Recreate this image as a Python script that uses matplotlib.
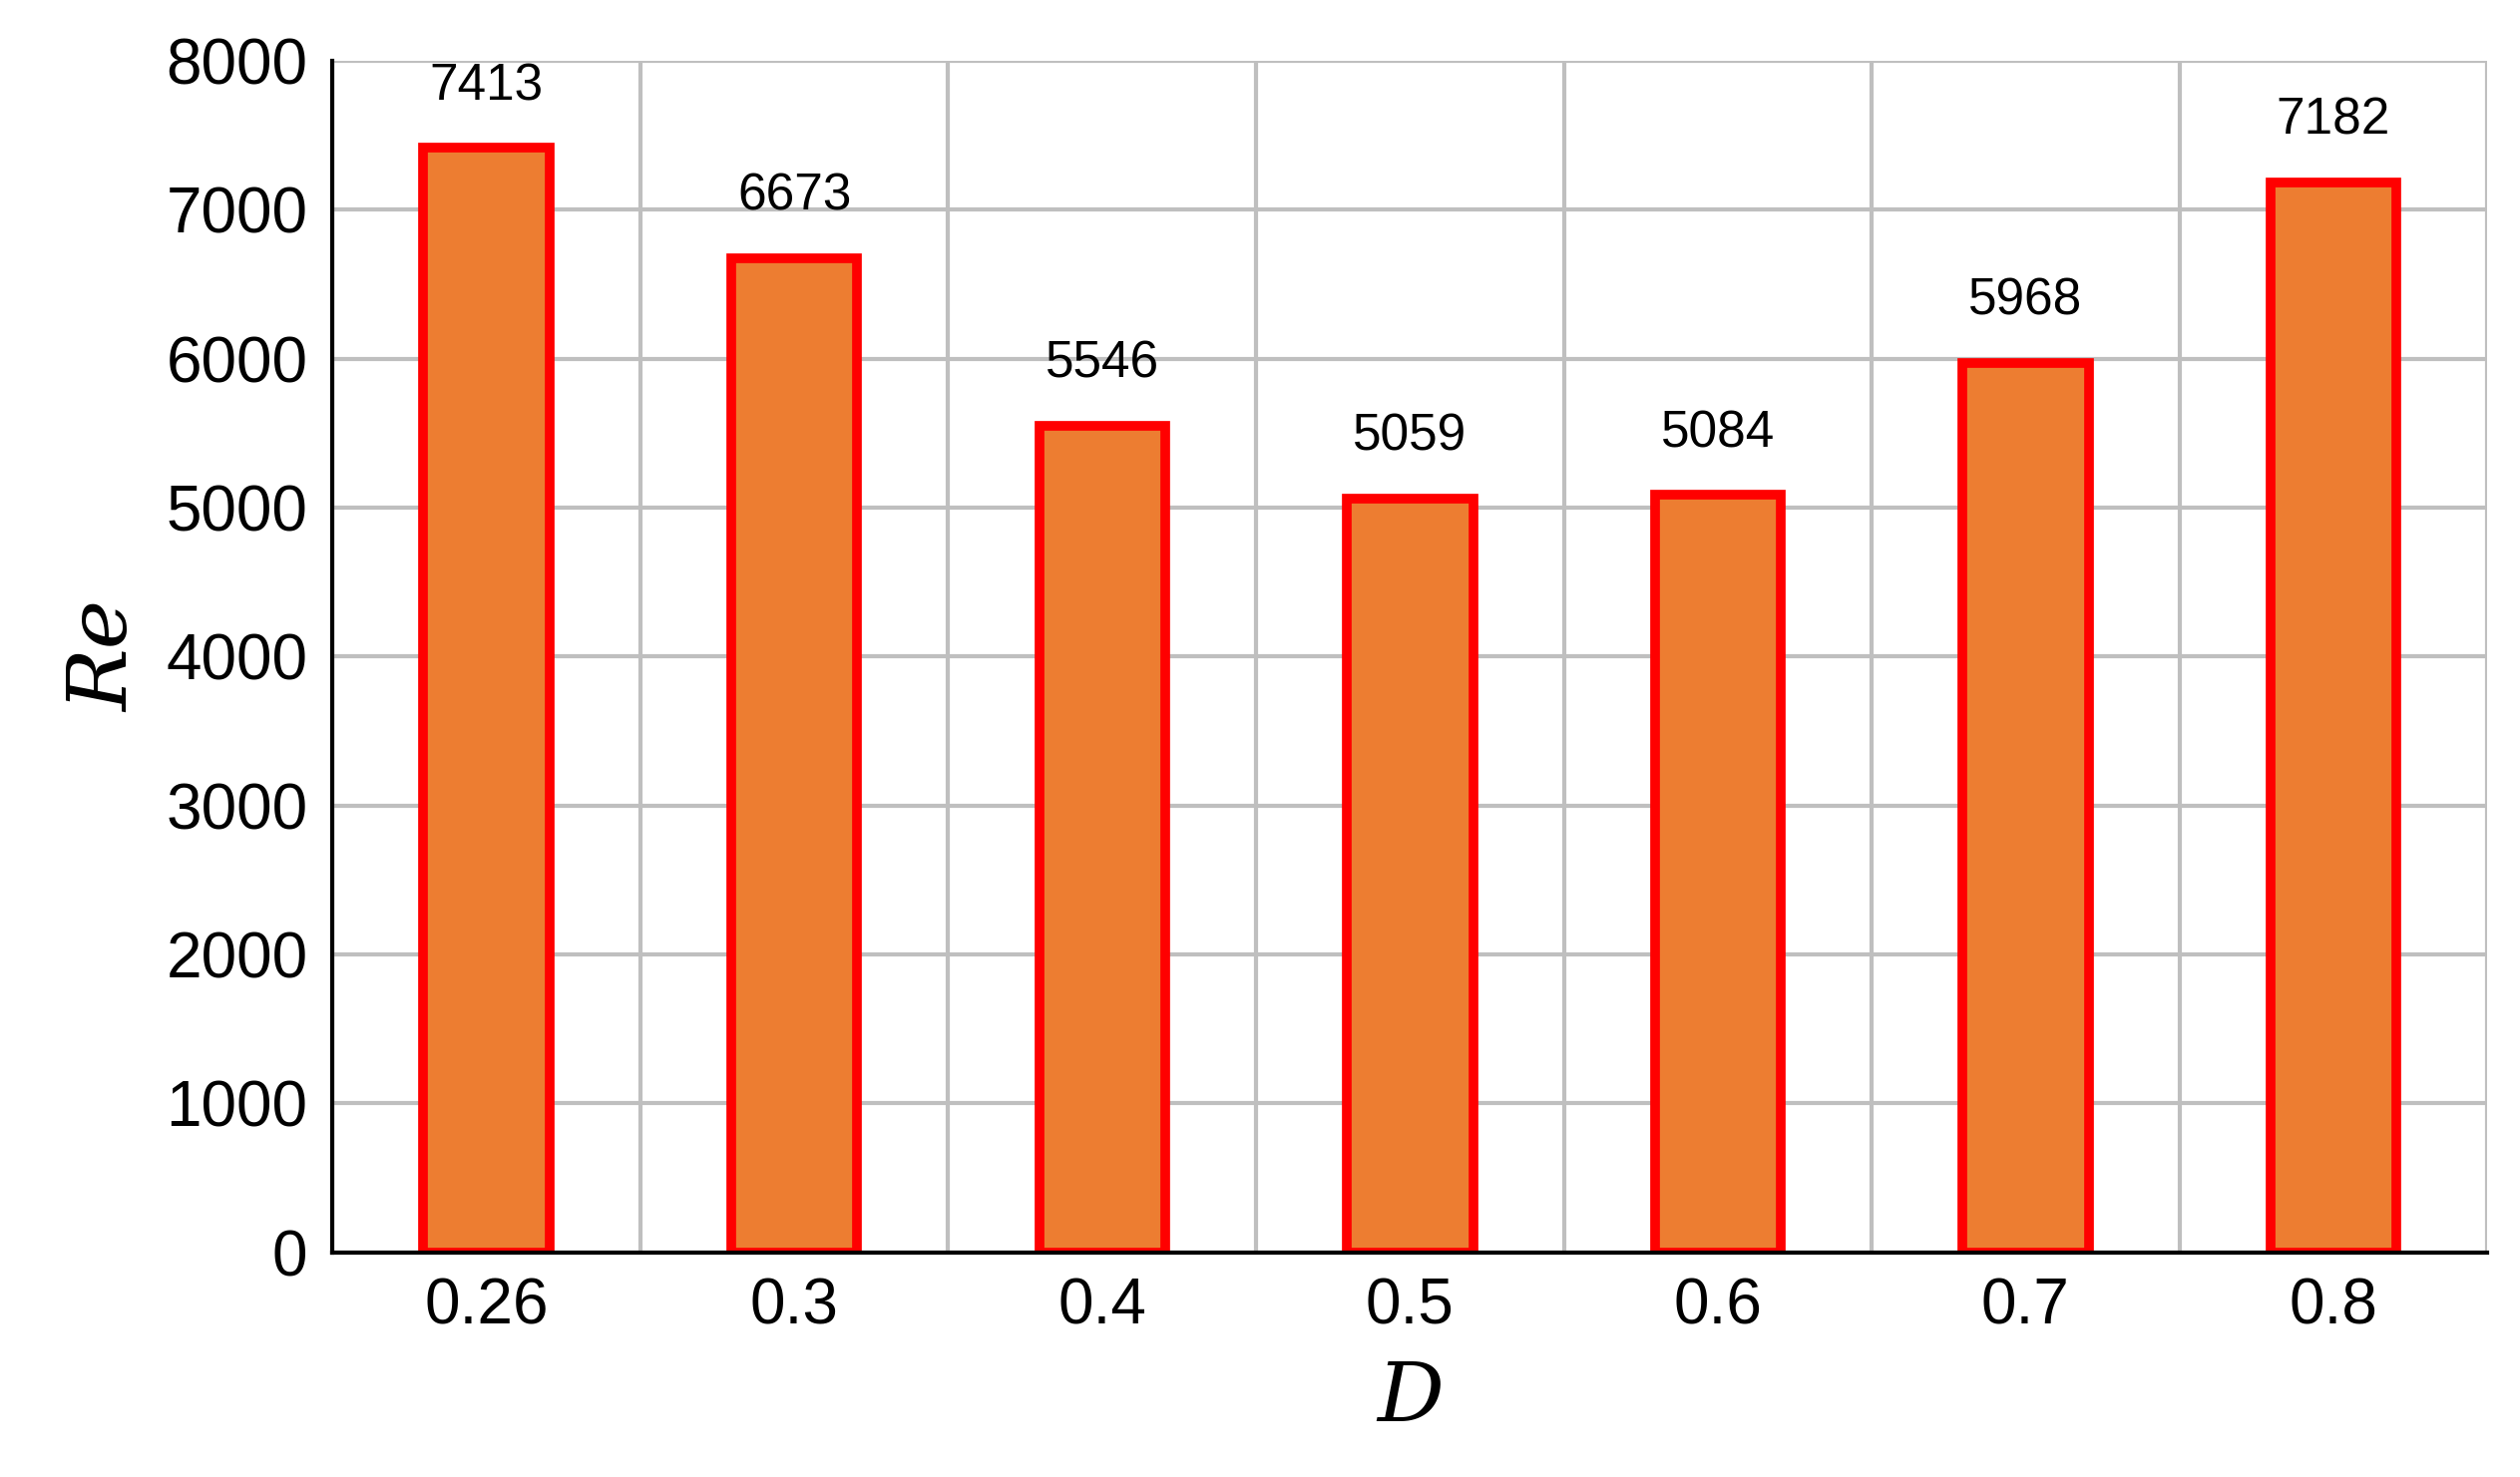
import matplotlib
matplotlib.use("Agg")
import matplotlib.pyplot as plt
import numpy as np

categories = ["0.26", "0.3", "0.4", "0.5", "0.6", "0.7", "0.8"]
values = [7413, 6673, 5546, 5059, 5084, 5968, 7182]
yticks = [0, 1000, 2000, 3000, 4000, 5000, 6000, 7000, 8000]

plt.rcParams['font.family'] = ['Liberation Sans', 'DejaVu Sans']
fig = plt.figure(figsize=(25.26, 14.81), dpi=100)
ax = fig.add_axes([0.132, 0.152, 0.855, 0.807])
x = np.arange(len(categories))
ax.bar(x, values, width=0.41, color='#ED7D31', edgecolor='#FF0000', linewidth=7, zorder=3)
for xi, v in zip(x, values):
    ax.text(xi, v + 250, str(v), ha='center', va='bottom', fontsize=37, zorder=4)
ax.set_xlim(-0.5, 6.5)
ax.set_ylim(0, 8000)
ax.set_yticks(yticks)
ax.set_xticks(x)
ax.set_xticklabels(categories)
ax.set_xticks(np.arange(-0.5, 7, 1), minor=True)
ax.grid(True, which='major', axis='y', color='#BFBFBF', linewidth=3, zorder=0)
ax.grid(True, which='minor', axis='x', color='#BFBFBF', linewidth=3, zorder=0)
ax.tick_params(axis='both', which='major', labelsize=46, length=0, pad=18)
ax.tick_params(axis='x', which='minor', length=0)
for s in ['top', 'right']:
    ax.spines[s].set_visible(False)
ax.spines['left'].set_linewidth(3)
ax.spines['bottom'].set_linewidth(3)
ax.spines['left'].set_zorder(5)
ax.spines['bottom'].set_zorder(5)
ax.set_xlabel('D', fontsize=60, family='DejaVu Serif', style='italic', labelpad=15)
ax.set_ylabel('Re', fontsize=60, family='DejaVu Serif', style='italic', labelpad=15)
fig.savefig('out.png', dpi=100)
